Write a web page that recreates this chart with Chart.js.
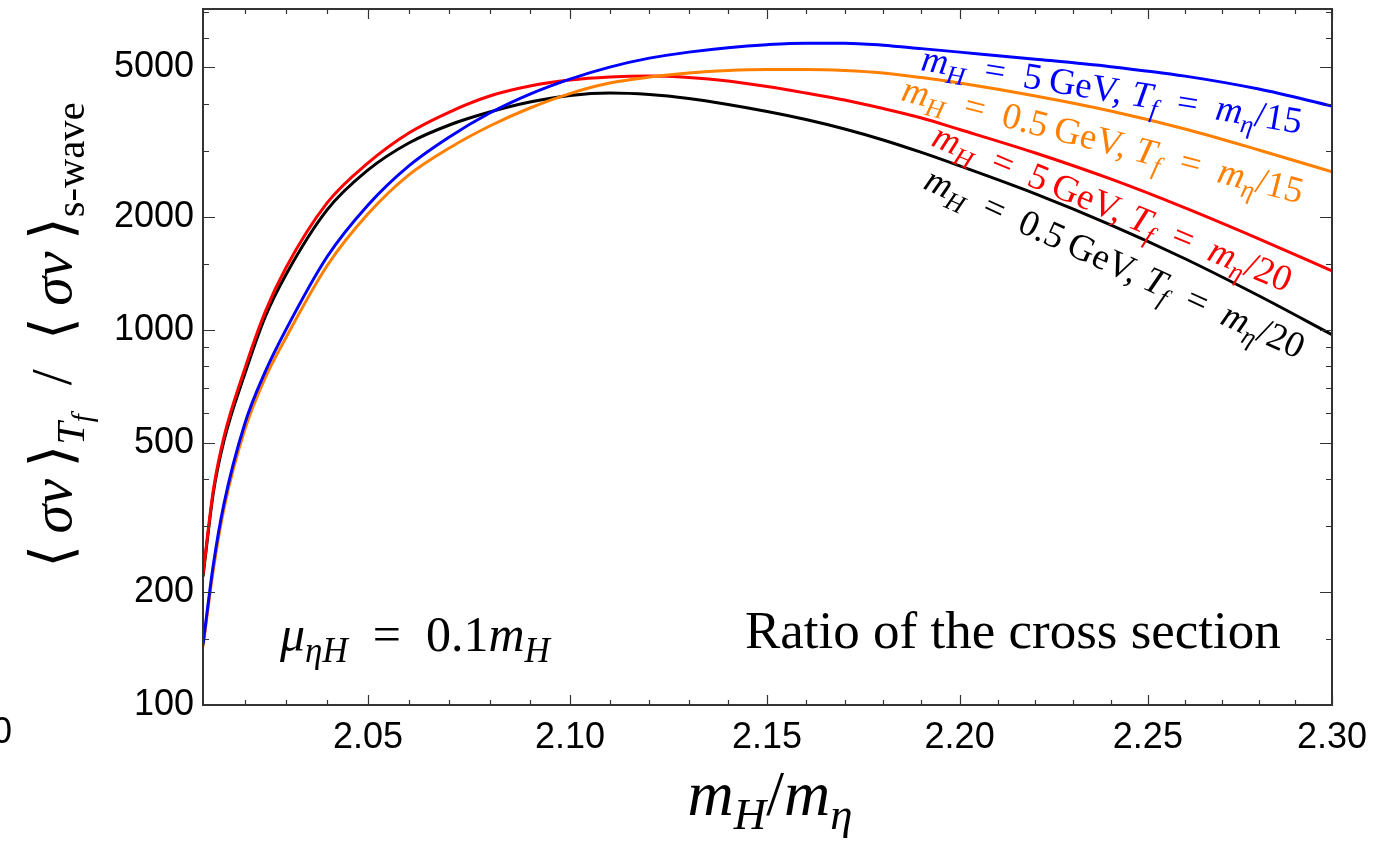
<!DOCTYPE html>
<html>
<head>
<meta charset="utf-8">
<script src="https://cdn.jsdelivr.net/npm/chart.js@4.4.0/dist/chart.umd.min.js"></script>
<style>
  html, body { margin: 0; padding: 0; background: #fff; }
  #wrap { width: 1392px; height: 842px; }
</style>
</head>
<body>
<div id="wrap"><canvas id="ratioChart" width="1392" height="842"></canvas></div>
<script>
// m_H / m_eta sample points
const massRatio = [2.01, 2.0125, 2.015, 2.02, 2.025, 2.03, 2.04, 2.05, 2.06, 2.07, 2.08, 2.09, 2.10,
  2.11, 2.12, 2.13, 2.14, 2.15, 2.16, 2.17, 2.18, 2.19, 2.20, 2.22, 2.24, 2.26, 2.28, 2.30];

// <sigma v>_Tf / <sigma v>_s-wave for each case
const blue5GeV15 = [145, 237, 342, 559, 773, 1000, 1564, 2149, 2731, 3262, 3777, 4243, 4652,
  5005, 5289, 5488, 5641, 5745, 5799, 5799, 5728, 5607, 5488, 5257, 5020, 4737, 4375, 3943];
const orange05GeV15 = [143, 230, 332, 539, 745, 952, 1480, 2035, 2584, 3048, 3488, 3895, 4256,
  4539, 4709, 4826, 4900, 4930, 4930, 4900, 4826, 4694, 4539, 4192, 3824, 3425, 3011, 2632];
const red5GeV20 = [223, 375, 516, 783, 1117, 1462, 2176, 2781, 3341, 3800, 4192, 4456, 4623,
  4709, 4737, 4694, 4595, 4443, 4269, 4090, 3882, 3663, 3414, 2956, 2521, 2111, 1746, 1435];
const black05GeV20 = [220, 369, 504, 759, 1083, 1401, 2085, 2664, 3143, 3510, 3800, 4040, 4205,
  4269, 4230, 4128, 3979, 3812, 3630, 3425, 3202, 2966, 2731, 2300, 1902, 1545, 1231, 970];

// axis ticks
const xMajorTicks = [2.05, 2.10, 2.15, 2.20, 2.25, 2.30];
const xMinorTicks = [2.02, 2.03, 2.04, 2.06, 2.07, 2.08, 2.09, 2.11, 2.12, 2.13, 2.14, 2.16, 2.17,
  2.18, 2.19, 2.21, 2.22, 2.23, 2.24, 2.26, 2.27, 2.28, 2.29];
const yMajorTicks = [100, 200, 500, 1000, 2000, 5000];
const yMinorTicks = [150, 300, 400, 600, 700, 800, 900, 1500, 3000, 4000, 6000, 7000];

const SERIF = '"Liberation Serif", "DejaVu Serif", serif';
const SANS = '"Liberation Sans", Arial, sans-serif';
const EN = '\u2002';
const THIN = '\u2009';

function seg(t, f) {
  f = f || '';
  return { t: t, it: f.includes('i'), sub: f.includes('2') ? 2 : (f.includes('s') ? 1 : 0) };
}

function segFont(s, size) {
  const fs = s.sub === 2 ? size * 0.5 : s.sub ? size * 0.7 : size;
  return (s.it ? 'italic ' : '') + fs + 'px ' + SERIF;
}

function mathWidth(ctx, segs, size) {
  let w = 0;
  segs.forEach(s => {
    ctx.font = segFont(s, size);
    w += ctx.measureText(s.t).width;
  });
  return w;
}

function drawMath(ctx, segs, x, y, angle, size, color) {
  ctx.save();
  ctx.translate(x, y);
  ctx.rotate(angle);
  ctx.fillStyle = color;
  ctx.textAlign = 'left';
  ctx.textBaseline = 'alphabetic';
  let cx = 0;
  segs.forEach(s => {
    const dy = s.sub === 2 ? size * 0.36 : s.sub ? size * 0.22 : 0;
    ctx.font = segFont(s, size);
    ctx.fillText(s.t, cx, dy);
    cx += ctx.measureText(s.t).width;
  });
  ctx.restore();
}

function curveLabel(mass, temp) {
  return [seg('m', 'i'), seg('H', 'is'), seg(EN + '=' + EN + mass + THIN + 'GeV, '), seg('T', 'i'), seg('f', 'is'),
    seg(EN + '=' + EN), seg('m', 'i'), seg('η', 'is'), seg('/' + temp)];
}

const framePlugin = {
  id: 'framePlugin',
  afterDraw(chart) {
    const ctx = chart.ctx;
    const a = chart.chartArea;
    const xs = chart.scales.x, ys = chart.scales.y;
    ctx.save();
    ctx.strokeStyle = '#333';
    ctx.lineWidth = 1.2;
    ctx.beginPath();
    xMajorTicks.concat(xMinorTicks).forEach(v => {
      const len = xMajorTicks.includes(v) ? 10 : 5;
      const px = Math.round(xs.getPixelForValue(v)) + 0.5;
      ctx.moveTo(px, a.bottom); ctx.lineTo(px, a.bottom - len);
      ctx.moveTo(px, a.top); ctx.lineTo(px, a.top + len);
    });
    yMajorTicks.concat(yMinorTicks).forEach(v => {
      const len = yMajorTicks.includes(v) ? 12 : 6;
      const py = Math.round(ys.getPixelForValue(v)) + 0.5;
      ctx.moveTo(a.left, py); ctx.lineTo(a.left + len, py);
      ctx.moveTo(a.right, py); ctx.lineTo(a.right - len, py);
    });
    ctx.stroke();
    ctx.lineWidth = 2;
    ctx.strokeRect(a.left, a.top, a.right - a.left, a.bottom - a.top);

    // labels along the curves
    const lbl = 37;
    drawMath(ctx, curveLabel('5', '15'), 920, 70, 9.5 * Math.PI / 180, lbl, '#0000ff');
    drawMath(ctx, curveLabel('0.5', '15'), 900, 100, 14.5 * Math.PI / 180, lbl, '#ff8000');
    drawMath(ctx, curveLabel('5', '20'), 930, 145, 22.5 * Math.PI / 180, lbl, '#ff0000');
    drawMath(ctx, curveLabel('0.5', '20'), 922, 188, 24.5 * Math.PI / 180, lbl, '#000000');

    // in-plot notes
    drawMath(ctx, [seg('μ', 'i'), seg('ηH', 'is'), seg(EN + '=' + EN + '0.1'), seg('m', 'i'), seg('H', 'is')], 280, 651, 0, 50, '#000');
    drawMath(ctx, [seg('Ratio of the cross section')], 745, 648, 0, 53, '#000');

    // axis titles
    const xt = [seg('m', 'i'), seg('H', 'is'), seg('/'), seg('m', 'i'), seg('η', 'is')];
    const xw = mathWidth(ctx, xt, 64);
    drawMath(ctx, xt, 770 - xw / 2, 815, 0, 64, '#000');
    const yt = [seg('⟨' + THIN), seg('σv', 'i'), seg(THIN + '⟩'), seg('T', 'is'), seg('f', 'i2'),
      seg(EN + '/' + EN + '⟨' + THIN), seg('σv', 'i'), seg(THIN + '⟩'), seg('s-wave', 's')];
    const yw = mathWidth(ctx, yt, 58);
    drawMath(ctx, yt, 71, 335 + yw / 2, -Math.PI / 2, 58, '#000');

    // clipped label at the left edge
    ctx.font = '36px ' + SANS;
    ctx.fillStyle = '#000';
    ctx.textAlign = 'right';
    ctx.textBaseline = 'top';
    ctx.fillText('2.00', 12, 715);
    ctx.restore();
  }
};

function points(ys) {
  return massRatio.map((x, i) => ({ x: x, y: ys[i] }));
}

const series = [
  { label: 'mH = 5 GeV, Tf = m_eta/15', data: blue5GeV15, color: '#0000ff' },
  { label: 'mH = 0.5 GeV, Tf = m_eta/15', data: orange05GeV15, color: '#ff8000' },
  { label: 'mH = 5 GeV, Tf = m_eta/20', data: red5GeV20, color: '#ff0000' },
  { label: 'mH = 0.5 GeV, Tf = m_eta/20', data: black05GeV20, color: '#000000' }
];

new Chart(document.getElementById('ratioChart'), {
  type: 'line',
  data: {
    datasets: series.map(s => ({
      label: s.label,
      data: points(s.data),
      borderColor: s.color,
      backgroundColor: s.color,
      borderWidth: 3,
      pointRadius: 0,
      fill: false,
      cubicInterpolationMode: 'monotone'
    }))
  },
  options: {
    responsive: false,
    animation: false,
    devicePixelRatio: 1,
    layout: { padding: { left: 0, top: 9, right: 60, bottom: 0 } },
    plugins: {
      legend: { display: false },
      tooltip: { enabled: false }
    },
    scales: {
      x: {
        type: 'logarithmic',
        min: 2.01,
        max: 2.30,
        grid: { display: false, drawTicks: false },
        border: { display: false },
        afterBuildTicks: scale => { scale.ticks = xMajorTicks.map(v => ({ value: v })); },
        afterFit: scale => {
          scale.height = 842 - 705;
          scale.paddingLeft = 0;
          scale.paddingRight = 0;
        },
        ticks: {
          autoSkip: false,
          maxRotation: 0,
          padding: 11,
          color: '#000',
          font: { family: SANS, size: 36 },
          callback: v => Number(v).toFixed(2)
        }
      },
      y: {
        type: 'logarithmic',
        min: 100,
        max: 7150,
        grid: { display: false, drawTicks: false },
        border: { display: false },
        afterBuildTicks: scale => { scale.ticks = yMajorTicks.map(v => ({ value: v })); },
        afterFit: scale => {
          scale.width = 203;
          scale.paddingTop = 0;
          scale.paddingBottom = 0;
        },
        ticks: {
          autoSkip: false,
          padding: 9,
          color: '#000',
          font: { family: SANS, size: 36 },
          callback: v => String(v)
        }
      }
    }
  },
  plugins: [framePlugin]
});
</script>
</body>
</html>
